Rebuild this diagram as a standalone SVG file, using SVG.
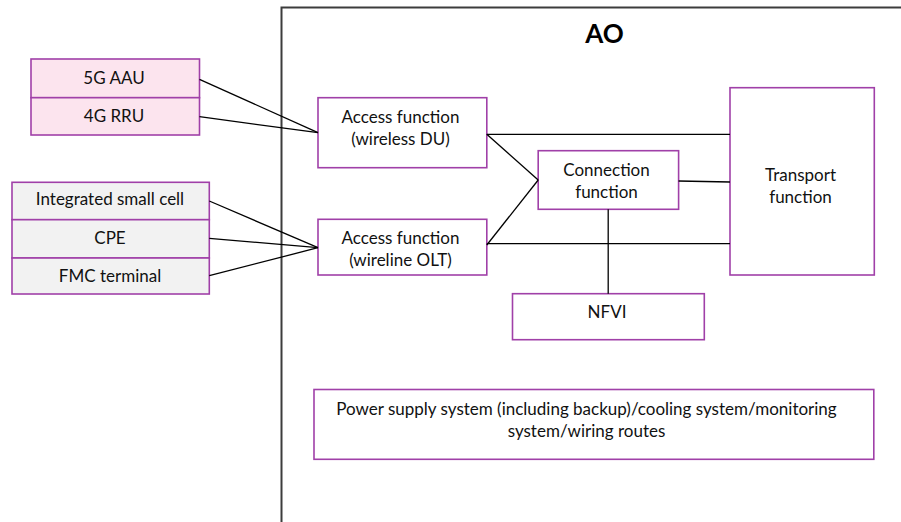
<svg xmlns="http://www.w3.org/2000/svg" width="901" height="522" viewBox="0 0 901 522">
  <style>
    .box { fill: #ffffff; stroke: #a040a8; stroke-width: 1.6; }
    .pink { fill: #fce4ee; stroke: #a040a8; stroke-width: 1.6; }
    .grey { fill: #f2f2f2; stroke: #a040a8; stroke-width: 1.6; }
    .lbl { font-family: Lato, "Liberation Sans", sans-serif; font-size: 17px; fill: #111111; text-anchor: middle; }
    .title { font-family: Lato, "Liberation Sans", sans-serif; font-size: 26px; font-weight: bold; fill: #000000; text-anchor: middle; }
    .wire { stroke: #000000; stroke-width: 1.3; fill: none; }
  </style>

  <!-- AO boundary -->
  <g id="ao">
    <path d="M281.5,522 V7.5 H901" fill="none" stroke="#3c3c3c" stroke-width="2"/>
    <text class="title" x="604.5" y="42.5">AO</text>
  </g>

  <!-- wireless front-end units -->
  <g id="radio-units">
    <rect class="pink" x="31" y="59" width="168.5" height="38.7"/>
    <rect class="pink" x="31" y="97.7" width="168.5" height="37.3"/>
    <text class="lbl" x="114" y="84">5G AAU</text>
    <text class="lbl" x="114" y="122">4G RRU</text>
  </g>

  <!-- wireline terminals -->
  <g id="wireline-terminals">
    <rect class="grey" x="12" y="182.3" width="197.3" height="37.4"/>
    <rect class="grey" x="12" y="219.7" width="197.3" height="38.3"/>
    <rect class="grey" x="12" y="258" width="197.3" height="36"/>
    <text class="lbl" x="110" y="205">Integrated small cell</text>
    <text class="lbl" x="110" y="243.5">CPE</text>
    <text class="lbl" x="110" y="281.5">FMC terminal</text>
  </g>

  <g id="access-du">
    <rect class="box" x="318" y="97.7" width="168.8" height="70"/>
    <text class="lbl" x="400.5" y="122.5">Access function</text>
    <text class="lbl" x="400.5" y="144.5">(wireless DU)</text>
  </g>

  <g id="access-olt">
    <rect class="box" x="318" y="219.3" width="168.8" height="55.7"/>
    <text class="lbl" x="400.5" y="243.5">Access function</text>
    <text class="lbl" x="400.5" y="265.5">(wireline OLT)</text>
  </g>

  <g id="connection">
    <rect class="box" x="538.2" y="150.7" width="140.4" height="58.6"/>
    <text class="lbl" x="606.5" y="175.5">Connection</text>
    <text class="lbl" x="606.5" y="197.5">function</text>
  </g>

  <g id="transport">
    <rect class="box" x="730" y="87.7" width="144.3" height="187.3"/>
    <text class="lbl" x="800.5" y="181">Transport</text>
    <text class="lbl" x="800.5" y="202.5">function</text>
  </g>

  <g id="nfvi">
    <rect class="box" x="512.5" y="293.7" width="191.8" height="46"/>
    <text class="lbl" x="607" y="317.5">NFVI</text>
  </g>

  <g id="facilities">
    <rect class="box" x="314" y="389.5" width="559.8" height="69.8"/>
    <text class="lbl" x="586.5" y="415">Power supply system (including backup)/cooling system/monitoring</text>
    <text class="lbl" x="586.5" y="437">system/wiring routes</text>
  </g>

  <!-- connectors -->
  <g id="connectors">
    <line class="wire" x1="199.5" y1="79.3" x2="318" y2="132.7"/>
    <line class="wire" x1="199.5" y1="116.7" x2="318" y2="132.7"/>
    <line class="wire" x1="209.3" y1="201" x2="318" y2="247.7"/>
    <line class="wire" x1="209.3" y1="238.3" x2="318" y2="247.7"/>
    <line class="wire" x1="209.3" y1="275.7" x2="318" y2="247.7"/>
    <line class="wire" x1="486.8" y1="134.3" x2="730" y2="134.3"/>
    <line class="wire" x1="486.8" y1="134.3" x2="538.2" y2="180"/>
    <line class="wire" x1="486.8" y1="245" x2="538.2" y2="180"/>
    <line class="wire" x1="486.8" y1="243.7" x2="730" y2="243.7"/>
    <line class="wire" x1="678.6" y1="181" x2="730" y2="182"/>
    <line class="wire" x1="608.2" y1="209.3" x2="608.2" y2="293.7"/>
  </g>
</svg>
